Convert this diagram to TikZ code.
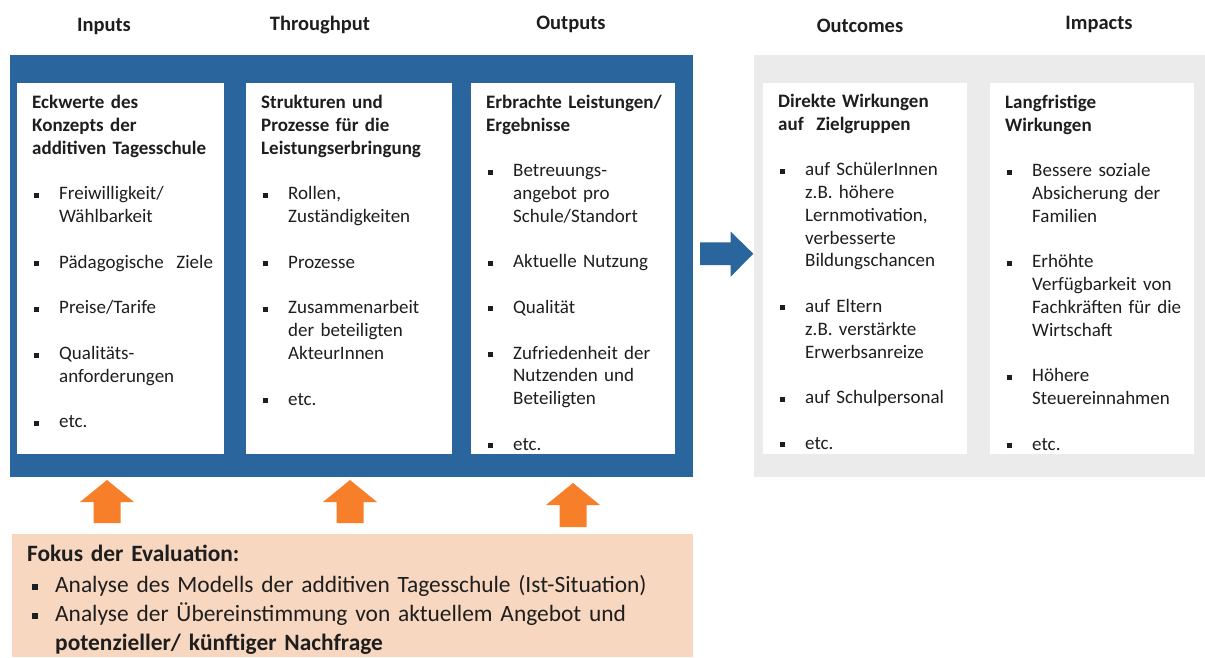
\documentclass[tikz,border=0pt]{standalone}
\usepackage{fontspec}
\setmainfont{Carlito}
\definecolor{tsblue}{RGB}{42,101,157}
\definecolor{tsgray}{RGB}{235,235,235}
\definecolor{tsorange}{RGB}{247,127,42}
\definecolor{tspeach}{RGB}{248,215,192}
\definecolor{txt}{RGB}{30,30,30}
\newcommand{\bxsq}{\rule[2pt]{5pt}{5pt}}
\newcommand{\bitem}[1]{\noindent\hangindent=27pt\hangafter=1\makebox[27pt][l]{\hspace{2pt}\bxsq}#1\par}
\newcommand{\gapline}{\vspace{22.8pt}}
\newcommand{\btitle}[1]{\noindent\rule{0pt}{16pt}\textbf{#1}\par}
\newcommand{\fitem}[1]{\noindent\hangindent=28pt\hangafter=1\makebox[28pt][l]{\hspace{5pt}\rule[2.5pt]{6pt}{6pt}}#1\par}
\tikzset{
  whitebox/.style={fill=white, draw=none, inner sep=0pt, anchor=north west, minimum height=371pt},
  boxtext/.style={anchor=north west, inner sep=0pt, text width=190pt, text=txt,
    font=\fontsize{19}{22.8}\selectfont},
  head/.style={anchor=base, inner sep=0pt, text=txt, font=\fontsize{20.5}{24}\selectfont\bfseries},
  frame/.style={draw=none, inner sep=0pt, anchor=north west},
  uparrow/.style={fill=tsorange, draw=none},
}
\begin{document}
\begin{tikzpicture}[x=1pt,y=-1pt]
\useasboundingbox (0,0) rectangle (1205,657);
% headers
\node[head] (hin)  at (104,31.5) {Inputs};
\node[head] (hth)  at (320,30) {Throughput};
\node[head] (hout) at (571,29) {Outputs};
\node[head] (hoc)  at (860,32) {Outcomes};
\node[head] (him)  at (1099,29.5) {Impacts};
% frames
\node[frame, fill=tsblue, minimum width=683pt, minimum height=422pt] (fl) at (10,55) {};
\node[frame, fill=tsgray, minimum width=451pt, minimum height=422pt] (fr) at (754,55) {};
\node[frame, fill=tspeach, minimum width=681pt, minimum height=123pt] (fb) at (12,534) {};
% white boxes
\node[whitebox, minimum width=207pt] (b1) at (17,83) {};
\node[whitebox, minimum width=206pt] (b2) at (246,83) {};
\node[whitebox, minimum width=204pt] (b3) at (471,83) {};
\node[whitebox, minimum width=204pt] (b4) at (763,83) {};
\node[whitebox, minimum width=204pt] (b5) at (990,83) {};
% box texts
\node[boxtext] (t1) at (32,92.5) {\setlength{\parskip}{0pt}%
\btitle{Eckwerte des\newline Konzepts der\newline additiven Tagesschule}\gapline
\bitem{Freiwilligkeit/\newline Wählbarkeit}\gapline
\bitem{Pädagogische\ \ Ziele}\gapline
\bitem{Preise/Tarife}\gapline
\bitem{Qualitäts-\newline anforderungen}\gapline
\bitem{etc.}};
\node[boxtext] (t2) at (261,92.5) {\setlength{\parskip}{0pt}%
\btitle{Strukturen und\newline Prozesse für die\newline Leistungserbringung}\gapline
\bitem{Rollen,\newline Zuständigkeiten}\gapline
\bitem{Prozesse}\gapline
\bitem{Zusammenarbeit\newline der beteiligten\newline AkteurInnen}\gapline
\bitem{etc.}};
\node[boxtext] (t3) at (486,92) {\setlength{\parskip}{0pt}%
\btitle{Erbrachte Leistungen/\newline Ergebnisse}\gapline
\bitem{Betreuungs-\newline angebot pro\newline Schule/Standort}\gapline
\bitem{Aktuelle Nutzung}\gapline
\bitem{Qualität}\gapline
\bitem{Zufriedenheit der\newline Nutzenden und\newline Beteiligten}\gapline
\bitem{etc.}};
\node[boxtext] (t4) at (778,91) {\setlength{\parskip}{0pt}%
\btitle{Direkte Wirkungen\newline auf\ \ Zielgruppen}\gapline
\bitem{auf SchülerInnen\newline z.B. höhere\newline Lernmotivation,\newline verbesserte\newline Bildungschancen}\gapline
\bitem{auf Eltern\newline z.B. verstärkte\newline Erwerbsanreize}\gapline
\bitem{auf Schulpersonal}\gapline
\bitem{etc.}};
\node[boxtext] (t5) at (1005,92) {\setlength{\parskip}{0pt}%
\btitle{Langfristige\newline Wirkungen}\gapline
\bitem{Bessere soziale\newline Absicherung der\newline Familien}\gapline
\bitem{Erhöhte\newline Verfügbarkeit von\newline Fachkräften für die\newline Wirtschaft}\gapline
\bitem{Höhere\newline Steuereinnahmen}\gapline
\bitem{etc.}};
% blue block arrow
\fill[tsblue] (700,242.3) -- (730.7,242.3) -- (730.7,231.7) -- (753.3,253.7)
  -- (730.7,276.7) -- (730.7,265) -- (700,265) -- cycle;
% orange block arrows
\fill[uparrow] (107,480) -- (134,502) -- (120.5,502) -- (120.5,523) -- (93.5,523) -- (93.5,502) -- (80,502) -- cycle;
\fill[uparrow] (350,480) -- (377,502) -- (363.5,502) -- (363.5,523) -- (336.5,523) -- (336.5,502) -- (323,502) -- cycle;
\fill[uparrow] (573,483) -- (600,505) -- (586.5,505) -- (586.5,527) -- (559.5,527) -- (559.5,505) -- (546,505) -- cycle;
% focus text
\node[anchor=north west, inner sep=0pt, text width=660pt, text=txt,
  font=\fontsize{23.4}{28.7}\selectfont] (focus) at (27,541) {\setlength{\parskip}{0pt}%
\noindent\rule{0pt}{20pt}\textbf{Fokus der Evaluation:}\par\vspace{3pt}
\fitem{Analyse des Modells der additiven Tagesschule (Ist-Situation)}
\fitem{Analyse der Übereinstimmung von aktuellem Angebot und\newline \textbf{potenzieller/ künftiger Nachfrage}}};
\end{tikzpicture}
\end{document}
